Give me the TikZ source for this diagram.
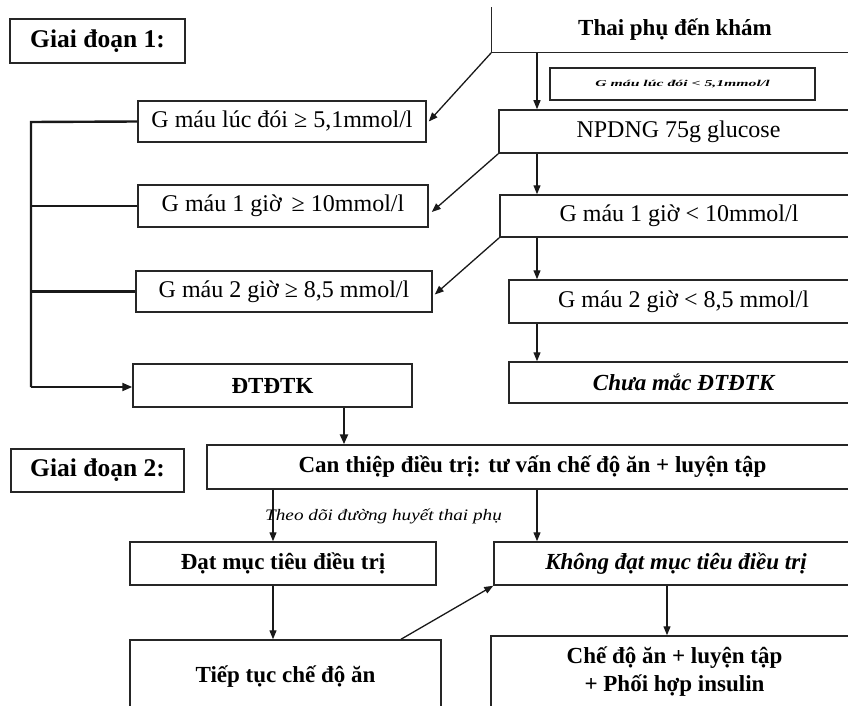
\documentclass[tikz,border=0pt]{standalone}
\usepackage{fontspec}
\setmainfont{Liberation Serif}
\usetikzlibrary{arrows.meta}
\begin{document}
\begin{tikzpicture}[x=1pt,y=-1pt,
  box/.style={draw=black!85, line width=1.5pt, rectangle, inner sep=0pt, align=center, font=\fontsize{24}{28}\selectfont},
  bbox/.style={box, font=\fontsize{23}{28}\selectfont\bfseries},
  ibox/.style={box, font=\fontsize{23}{28}\selectfont\bfseries\itshape},
  stage/.style={box, font=\fontsize{25.5}{30}\selectfont\bfseries},
  ar/.style={-{Triangle[length=9pt,width=7pt]}, line width=1.3pt, draw=black!90},
  thick ar/.style={-{Triangle[length=10pt,width=8pt]}, line width=2.4pt, draw=black!90},
  bracket/.style={line width=2.4pt, draw=black!90}]
\useasboundingbox (0,0) rectangle (848,706);
\clip (0,0) rectangle (848,706);

% stage labels
\node[stage, minimum width=175pt, minimum height=44pt] (gd1) at (97.5,41) {Giai đoạn 1:};
\node[stage, minimum width=173pt, minimum height=43pt] (gd2) at (97.5,470.5) {Giai đoạn 2:};

% top box (only left and bottom edges visible)
\node[bbox, draw=none, minimum width=366pt, minimum height=44pt] (thai) at (675,30) {Thai phụ đến khám};
\draw[draw=black!85, line width=1.5pt] (thai.north west) -- (thai.south west) -- (thai.south east);

\node[box, minimum width=265pt, minimum height=32pt] (small) at (682.5,84)
  {\fontsize{9}{10}\selectfont\bfseries\itshape\scalebox{1.75}[1]{G máu lúc đói < 5,1mmol/l}};

% right column
\node[box, minimum width=359pt, minimum height=43pt] (npd) at (678.5,131.5) {NPDNG 75g glucose};
\node[box, minimum width=358pt, minimum height=42pt] (g1lt) at (679,216) {G máu 1 giờ < 10mmol/l};
\node[box, minimum width=349pt, minimum height=43pt] (g2lt) at (683.5,301.5) {G máu 2 giờ < 8,5 mmol/l};
\node[ibox, minimum width=349pt, minimum height=41pt] (chua) at (683.5,382.5) {Chưa mắc ĐTĐTK};

% left column
\node[box, minimum width=288pt, minimum height=41pt] (gfast) at (282,121.5) {G máu lúc đói ≥ 5,1mmol/l};
\node[box, minimum width=290pt, minimum height=42pt] (g1ge) at (283,206) {G máu 1 giờ\, ≥ 10mmol/l};
\node[box, minimum width=296pt, minimum height=41pt] (g2ge) at (284,291.5) {G máu 2 giờ ≥ 8,5 mmol/l};
\node[bbox, minimum width=279pt, minimum height=43pt] (dtd) at (272.5,385.5) {ĐTĐTK};

% stage 2
\node[bbox, minimum width=651pt, minimum height=44pt] (can) at (532.5,467) {Can thiệp điều trị: tư vấn chế độ ăn + luyện tập};
\node[bbox, minimum width=306pt, minimum height=43pt] (dat) at (283,563.5) {Đạt mục tiêu điều trị};
\node[ibox, minimum width=364pt, minimum height=43pt] (khong) at (676,563.5) {Không đạt mục tiêu điều trị};
\node[bbox, minimum width=311pt, minimum height=74pt] (tiep) at (285.5,677) {Tiếp tục chế độ ăn};
\node[bbox, minimum width=367pt, minimum height=72pt] (che) at (674.5,672) {Chế độ ăn + luyện tập\\+ Phối hợp insulin};

% arrows stage 1
\draw[ar] (thai.south west -| 537,0) -- (npd.north -| 537,0);
\draw[ar] (thai.south west) -- ([xshift=2pt]gfast.east);
\draw[ar] (npd.south -| 537,0) -- (g1lt.north -| 537,0);
\draw[ar] (npd.south west) -- ([xshift=3pt,yshift=-6pt]g1ge.east);
\draw[ar] (g1lt.south -| 537,0) -- (g2lt.north -| 537,0);
\draw[ar] (g1lt.south west) -- ([xshift=2pt,yshift=-3pt]g2ge.east);
\draw[ar] (g2lt.south -| 537,0) -- (chua.north -| 537,0);

% bracket
\coordinate (b1) at (31,122);
\coordinate (b4) at (31,387);
\draw[bracket] (gfast.west) -- (b1) -- (b4);
\draw[bracket] (g1ge.west) -- (g1ge.west -| b1);
\draw[bracket] (g2ge.west) -- (g2ge.west -| b1);
\draw[thick ar, line width=2pt] (b4) -- (b4 -| dtd.west);

% stage 2 arrows
\draw[thick ar] (dtd.south -| 344,0) -- (can.north -| 344,0);
\draw[ar] (can.south -| 273,0) -- (dat.north -| 273,0);
\node[font=\fontsize{16}{18}\selectfont\itshape, inner sep=0pt, anchor=west] (theo) at (265,516) {\scalebox{1.2}[1]{Theo dõi đường huyết thai phụ}};
\draw[ar] (can.south -| 537,0) -- (khong.north -| 537,0);
\draw[ar] (dat.south -| 273,0) -- (tiep.north -| 273,0);
\draw[ar] (tiep.north -| 401,0) -- (khong.south west);
\draw[ar] (khong.south -| 667,0) -- (che.north -| 667,0);
\end{tikzpicture}
\end{document}
